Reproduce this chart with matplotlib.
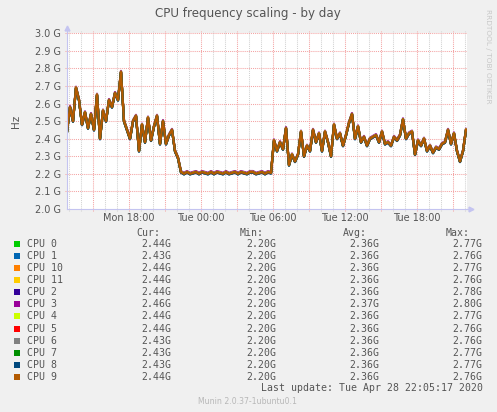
import matplotlib.pyplot as plt
import numpy as np
from matplotlib.patches import Rectangle

W, H = 497, 412

# legend rows, in munin's order (drawn in this order too, so CPU 9 ends on top)
cpus = ['CPU 0', 'CPU 1', 'CPU 10', 'CPU 11', 'CPU 2', 'CPU 3',
        'CPU 4', 'CPU 5', 'CPU 6', 'CPU 7', 'CPU 8', 'CPU 9']
colors = ['#00cc00', '#0066b3', '#ff8000', '#ffcc00', '#330099', '#990099',
          '#ccff00', '#ff0000', '#808080', '#008f00', '#00487d', '#b35a00']
cur = ['2.44G', '2.43G', '2.44G', '2.44G', '2.44G', '2.46G',
       '2.44G', '2.44G', '2.43G', '2.43G', '2.43G', '2.44G']
mins = ['2.20G'] * 12
avgs = ['2.36G', '2.36G', '2.36G', '2.36G', '2.36G', '2.37G',
        '2.36G', '2.36G', '2.36G', '2.36G', '2.36G', '2.36G']
maxs = ['2.77G', '2.76G', '2.77G', '2.76G', '2.78G', '2.80G',
        '2.77G', '2.76G', '2.76G', '2.77G', '2.77G', '2.76G']
# small per-cpu difference from the common curve (GHz)
offsets = [0.0, -0.003, 0.001, 0.0, 0.002, 0.006,
           0.002, -0.001, -0.002, -0.001, -0.003, 0.0]

# 15 minute samples, hours since Mon 00:00
t_start = 12.875
t_step = 0.25
freq = [
    2.44, 2.58, 2.50, 2.69, 2.62, 2.48, 2.55, 2.46, 2.54, 2.45,
    2.65, 2.40, 2.56, 2.50, 2.62, 2.58, 2.66, 2.62, 2.78, 2.50,
    2.45, 2.40, 2.50, 2.53, 2.33, 2.48, 2.38, 2.52, 2.39, 2.47,
    2.53, 2.37, 2.50, 2.37, 2.42, 2.45, 2.33, 2.29, 2.21,
    2.20, 2.21, 2.20, 2.205, 2.21, 2.20, 2.21, 2.205, 2.20, 2.21,
    2.20, 2.21, 2.205, 2.20, 2.21, 2.20, 2.205, 2.21, 2.20, 2.21,
    2.205, 2.20, 2.21, 2.21, 2.20, 2.205, 2.21, 2.20, 2.21, 2.205,
    2.39, 2.33, 2.38, 2.34, 2.46, 2.25, 2.31, 2.27, 2.31, 2.44,
    2.30, 2.36, 2.33, 2.45, 2.38, 2.43, 2.33, 2.44, 2.38, 2.30,
    2.48, 2.40, 2.43, 2.36, 2.42, 2.49, 2.54, 2.40, 2.47, 2.38,
    2.41, 2.36, 2.40, 2.41, 2.42, 2.38, 2.44, 2.37, 2.38, 2.36,
    2.41, 2.39, 2.42, 2.51, 2.40, 2.43, 2.44, 2.31, 2.39, 2.36,
    2.40, 2.33, 2.36, 2.32, 2.35, 2.34, 2.37, 2.38, 2.45, 2.37,
    2.43, 2.33, 2.27, 2.33, 2.45,
]
yticks = np.arange(2.0, 3.01, 0.1)

t = t_start + t_step * np.arange(len(freq))
freq = np.array(freq)

txt = '#555555'
red_grid = '#f4a4a4'
grey_grid = '#d2d2d2'
axis_col = '#c4c4f0'
dots = (0, (1, 1))

fig = plt.figure(figsize=(W / 100, H / 100), dpi=100, facecolor='#f0f0f0')

# plot box in pixel coords
x0, x1, y0, y1 = 66.7, 467, 33.3, 209
ax = fig.add_axes([x0 / W, 1 - y1 / H, (x1 - x0) / W, (y1 - y0) / H])
ax.set_facecolor('white')
ax.set_xlim(12.85, 12.85 + (x1 - x0) / 12)
ax.set_ylim(2.0, 3.0)

# grids, the vertical ones stick out a little above and below like munin's ticks
for h in range(13, 47):
    c = red_grid if h % 3 == 0 else grey_grid
    ax.plot([h, h], [1.988, 3.012], color=c, lw=0.75, ls=dots, zorder=1, clip_on=False)
for v in yticks[1:]:
    ax.plot([12.85 - 0.15, 46.2], [v, v], color=red_grid, lw=0.75, ls=dots, zorder=1,
            clip_on=False)

for i in range(len(cpus)):
    ax.plot(t, freq + offsets[i], color=colors[i], lw=1.6, zorder=3)

ax.set_yticks(yticks)
ax.set_yticklabels([f'{v:.1f} G' for v in yticks])
xt = [18, 24, 30, 36, 42]
ax.set_xticks(xt)
ax.set_xticklabels([('Mon' if h < 24 else 'Tue') + f' {h % 24:02d}:00' for h in xt])
ax.tick_params(length=0, labelsize=7, labelcolor=txt, pad=4)
ax.tick_params(axis='x', pad=3)
ax.set_ylabel('Hz', fontsize=7.5, color=txt, labelpad=10)

for s in ['top', 'right']:
    ax.spines[s].set_visible(False)
for s in ['left', 'bottom']:
    ax.spines[s].set_color(axis_col)
    ax.spines[s].set_linewidth(0.8)
    ax.spines[s].set_zorder(4)
ax.plot([12.85, 12.85], [3.0, 3.03], color=axis_col, lw=0.8, clip_on=False)
ax.plot([12.85], [3.03], marker='^', ms=3.5, color=axis_col, clip_on=False)
ax.plot([46.2, 46.55], [2.0, 2.0], color=axis_col, lw=0.8, clip_on=False)
ax.plot([46.55], [2.0], marker='>', ms=3.5, color=axis_col, clip_on=False)


def fx(px):
    return px / W


def fy(py):
    return 1 - py / H


fig.text(fx(248), fy(13.5), 'CPU frequency scaling - by day', ha='center', va='center',
         fontsize=8.6, color=txt)
fig.text(fx(488), fy(56), 'RRDTOOL / TOBI OETIKER', rotation=270, ha='center', va='center',
         fontsize=5.3, color='#c8c8c8')

mono = dict(family='DejaVu Sans Mono', fontsize=7.1, color=txt, va='center')
fig.text(fx(160), fy(233.3), 'Cur:', ha='right', **mono)
fig.text(fx(263.3), fy(233.3), 'Min:', ha='right', **mono)
fig.text(fx(366.7), fy(233.3), 'Avg:', ha='right', **mono)
fig.text(fx(470), fy(233.3), 'Max:', ha='right', **mono)
for i in range(len(cpus)):
    ry = 244.3 + 12.03 * i
    fig.patches.append(Rectangle((fx(14), fy(ry + 3)), 6 / W, 6 / H, transform=fig.transFigure,
                                 facecolor=colors[i], edgecolor='none'))
    fig.text(fx(26.7), fy(ry), cpus[i], ha='left', **mono)
    fig.text(fx(171.7), fy(ry), cur[i], ha='right', **mono)
    fig.text(fx(276), fy(ry), mins[i], ha='right', **mono)
    fig.text(fx(379), fy(ry), avgs[i], ha='right', **mono)
    fig.text(fx(482.7), fy(ry), maxs[i], ha='right', **mono)
fig.text(fx(482.7), fy(388.3), 'Last update: Tue Apr 28 22:05:17 2020', ha='right', **mono)
fig.text(fx(248), fy(401), 'Munin 2.0.37-1ubuntu0.1', ha='center', va='center',
         fontsize=5.6, color='#b8b8b8')

fig.savefig('out.png', dpi=100, facecolor=fig.get_facecolor())
